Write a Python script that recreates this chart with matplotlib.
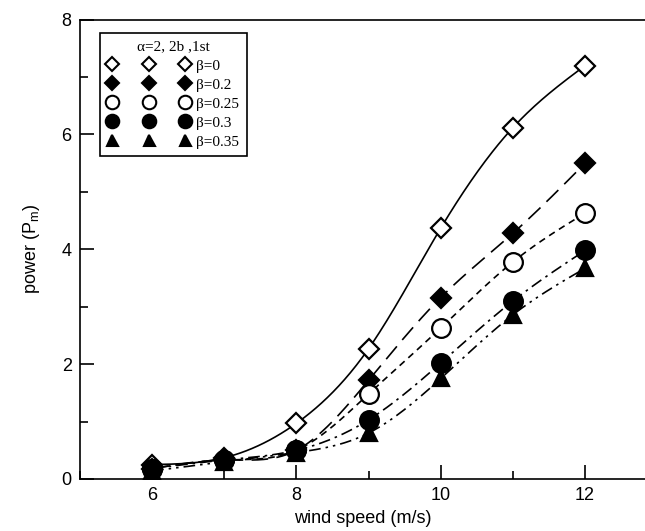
import numpy as np
import matplotlib.pyplot as plt
from matplotlib.lines import Line2D
from matplotlib.ticker import MultipleLocator

plt.rcParams['font.family'] = ['Liberation Sans', 'DejaVu Sans']
plt.rcParams['mathtext.default'] = 'regular'

# data
wind = [6, 7, 8, 9, 10, 11, 12]
p_b0 = [0.25, 0.37, 0.97, 2.27, 4.37, 6.12, 7.2]
p_b02 = [0.18, 0.33, 0.5, 1.72, 3.16, 4.28, 5.5]
p_b025 = [0.18, 0.33, 0.5, 1.48, 2.63, 3.78, 4.63]
p_b03 = [0.18, 0.33, 0.5, 1.03, 2.02, 3.1, 3.98]
p_b035 = [0.14, 0.3, 0.46, 0.8, 1.75, 2.86, 3.67]
labels = ["β=0", "β=0.2", "β=0.25", "β=0.3", "β=0.35"]
legend_title = "α=2, 2b ,1st"

series = [p_b0, p_b02, p_b025, p_b03, p_b035]
styles = [
    dict(marker='D', mfc='white', ms=10, ls='-'),
    dict(marker='D', mfc='black', ms=10, ls=(0, (10, 5))),
    dict(marker='o', mfc='white', ms=13.5, ls=(0, (4, 3))),
    dict(marker='o', mfc='black', ms=13.5, ls=(0, (7, 3, 1.5, 3))),
    dict(marker='^', mfc='black', ms=11, ls=(0, (7, 3, 1.5, 3, 1.5, 3))),
]


def smooth(x, y, xs):
    # natural cubic spline through the points
    x = np.asarray(x, float)
    y = np.asarray(y, float)
    n = len(x)
    h = np.diff(x)
    A = np.zeros((n, n))
    r = np.zeros(n)
    A[0, 0] = A[-1, -1] = 1
    for i in range(1, n - 1):
        A[i, i - 1] = h[i - 1]
        A[i, i] = 2 * (h[i - 1] + h[i])
        A[i, i + 1] = h[i]
        r[i] = 6 * ((y[i + 1] - y[i]) / h[i] - (y[i] - y[i - 1]) / h[i - 1])
    M = np.linalg.solve(A, r)
    i = np.clip(np.searchsorted(x, xs) - 1, 0, n - 2)
    a = x[i + 1] - xs
    b = xs - x[i]
    hi = h[i]
    return (M[i] * a**3 / (6 * hi) + M[i + 1] * b**3 / (6 * hi)
            + (y[i] - M[i] * hi**2 / 6) * a / hi
            + (y[i + 1] - M[i + 1] * hi**2 / 6) * b / hi)


fig = plt.figure(figsize=(6.45, 5.31), dpi=100)
ax = fig.add_axes([0.124, 0.098, 0.876, 0.865])

xs = np.linspace(6, 12, 300)
handles = []
for vals, st, lab in zip(series, styles, labels):
    ax.plot(xs, smooth(wind, vals, xs), color='black', lw=1.2, ls=st['ls'])
    ax.plot(wind, vals, ls='none', marker=st['marker'], mfc=st['mfc'],
            mec='black', mew=1.6, ms=st['ms'], zorder=3)
    handles.append(Line2D([], [], ls='none', marker=st['marker'], mfc=st['mfc'],
                          mec='black', mew=1.5, ms=st['ms'] * 0.72, label=lab))

ax.set_xlim(5, 12.83)
ax.set_ylim(0, 8)
ax.xaxis.set_major_locator(MultipleLocator(2))
ax.xaxis.set_minor_locator(MultipleLocator(1))
ax.yaxis.set_major_locator(MultipleLocator(2))
ax.yaxis.set_minor_locator(MultipleLocator(1))
ax.tick_params(which='both', direction='in', labelsize=13, width=1.2)
ax.tick_params(axis='x', pad=6)
ax.tick_params(axis='y', pad=6)
ax.tick_params(which='major', length=10)
ax.tick_params(which='minor', length=6)
ax.spines['right'].set_visible(False)
for s in ['left', 'bottom', 'top']:
    ax.spines[s].set_linewidth(1.2)

ax.set_xlabel("wind speed (m/s)", fontsize=13, labelpad=4)
ax.set_ylabel("power (P$_m$)", fontsize=13, labelpad=14)

leg = ax.legend(handles=handles, title=legend_title, loc='upper left',
                bbox_to_anchor=(0.035, 0.971), borderaxespad=0, numpoints=3,
                handlelength=5.4, handletextpad=0.4, labelspacing=0.35,
                borderpad=0.5, fancybox=False, edgecolor='black', framealpha=1,
                prop={'family': 'Liberation Serif', 'size': 11},
                title_fontproperties={'family': 'Liberation Serif', 'size': 11})
leg.get_frame().set_linewidth(1.2)

fig.savefig("out.png", dpi=100)
